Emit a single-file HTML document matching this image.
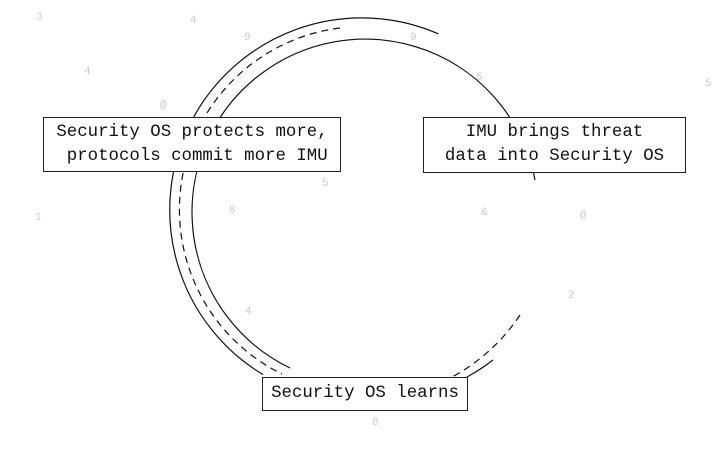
<!DOCTYPE html>
<html><head><meta charset="utf-8"><style>
html,body{margin:0;padding:0;background:#fff;}
body{width:724px;height:452px;position:relative;overflow:hidden;font-family:"Liberation Mono",monospace;}
svg{position:absolute;left:0;top:0;}
.box{position:absolute;background:#fff;border:1.3px solid #222;box-sizing:border-box;font-size:17.4px;line-height:24px;color:#111;white-space:pre;text-align:center;display:flex;flex-direction:column;justify-content:center;}
.bg{position:absolute;color:#ccc;font-size:11px;}
</style></head><body>
<div class="bg" style="left:36px;top:12px">3</div>
<div class="bg" style="left:190px;top:15px">4</div>
<div class="bg" style="left:244px;top:32px">9</div>
<div class="bg" style="left:410px;top:32px">9</div>
<div class="bg" style="left:84px;top:66px">4</div>
<div class="bg" style="left:476px;top:72px">5</div>
<div class="bg" style="left:705px;top:78px">5</div>
<div class="bg" style="left:160px;top:100px">@</div>
<div class="bg" style="left:322px;top:178px">5</div>
<div class="bg" style="left:35px;top:212px">1</div>
<div class="bg" style="left:229px;top:205px">8</div>
<div class="bg" style="left:481px;top:207px">&amp;</div>
<div class="bg" style="left:580px;top:210px">@</div>
<div class="bg" style="left:245px;top:306px">4</div>
<div class="bg" style="left:568px;top:290px">2</div>
<div class="bg" style="left:372px;top:417px">8</div>
<svg width="724" height="452" viewBox="0 0 724 452" fill="none" stroke="#111" stroke-width="1.2">
<path d="M535 180 A173 173 0 1 0 290 368"/>
<path d="M438.3 33.8 A192 192 0 0 0 263.1 374.6"/>
<path d="M493 360 A196 196 0 0 1 467 377"/>
<path d="M340 28 A183 183 0 0 0 282 374" stroke-dasharray="7 5"/>
<path d="M520 315 A189 189 0 0 1 452 377" stroke-dasharray="7 5"/>
</svg>
<div class="box" style="left:43px;top:117px;width:298px;height:55px">Security OS protects more,
 protocols commit more IMU</div>
<div class="box" style="left:423px;top:117px;width:263px;height:56px">IMU brings threat
data into Security OS</div>
<div class="box" style="left:262px;top:377px;width:206px;height:34px">Security OS learns</div>
</body></html>
